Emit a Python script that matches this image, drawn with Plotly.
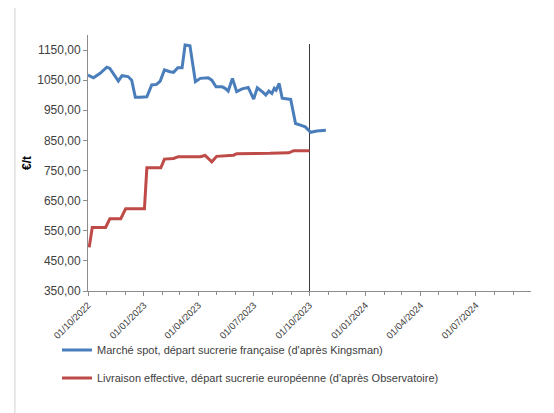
import plotly.graph_objects as go

# Blue series: Marché spot, départ sucrerie française (d'après Kingsman)
spot_dates = ["2022-10-01", "2022-10-10", "2022-10-21", "2022-11-01", "2022-11-06", "2022-11-20",
              "2022-11-26", "2022-12-06", "2022-12-12", "2022-12-18", "2022-12-26", "2023-01-06",
              "2023-01-14", "2023-01-22", "2023-01-28", "2023-02-04", "2023-02-13", "2023-02-19",
              "2023-02-26", "2023-03-05", "2023-03-10", "2023-03-18", "2023-03-27", "2023-04-04",
              "2023-04-17", "2023-04-23", "2023-04-30", "2023-05-10", "2023-05-15", "2023-05-20",
              "2023-05-27", "2023-06-03", "2023-06-12", "2023-06-22", "2023-07-01", "2023-07-07",
              "2023-07-15", "2023-07-21", "2023-07-26", "2023-07-31", "2023-08-04", "2023-08-07",
              "2023-08-12", "2023-08-17", "2023-08-31", "2023-09-08", "2023-09-16", "2023-09-24",
              "2023-10-03", "2023-10-13", "2023-10-28"]
spot_values = [1067, 1058, 1073, 1093, 1089, 1047,
               1065, 1062, 1050, 993, 993, 995,
               1034, 1036, 1047, 1084, 1078, 1076,
               1091, 1091, 1167, 1164, 1045, 1056,
               1058, 1050, 1028, 1028, 1023, 1014,
               1056, 1012, 1021, 1026, 987, 1025,
               1012, 1001, 1014, 1006, 1023, 1017,
               1039, 990, 986, 906, 901, 895,
               877, 881, 884]

# Red series: Livraison effective, départ sucrerie européenne (d'après Observatoire)
deliv_dates = ["2022-10-03", "2022-10-08", "2022-10-30", "2022-11-06", "2022-11-24", "2022-12-02",
               "2023-01-02", "2023-01-06", "2023-01-29", "2023-02-04", "2023-02-19", "2023-02-27",
               "2023-04-04", "2023-04-12", "2023-04-23", "2023-05-01", "2023-05-29", "2023-06-03",
               "2023-07-28", "2023-08-28", "2023-09-05", "2023-10-01"]
deliv_values = [495, 561, 561, 590, 590, 623,
                623, 759, 759, 788, 790, 796,
                796, 800, 779, 797, 801, 806,
                807, 809, 816, 816]

# Vertical marker
marker_date = "2023-10-01"
marker_values = [350, 1170]

y_ticks = [350, 450, 550, 650, 750, 850, 950, 1050, 1150]
x_range = ["2022-10-01", "2024-09-30"]
y_range = [350, 1200]

name_spot = "Marché spot, départ sucrerie française (d'après Kingsman)"
name_deliv = "Livraison effective, départ sucrerie européenne (d'après Observatoire)"

fig = go.Figure()
fig.add_trace(go.Scatter(x=[marker_date, marker_date], y=marker_values, mode="lines",
                         line=dict(color="#3a3a3a", width=1), showlegend=False, hoverinfo="skip"))
fig.add_trace(go.Scatter(x=spot_dates, y=spot_values, mode="lines", name=name_spot,
                         line=dict(color="#4A7EBB", width=3), legend="legend"))
fig.add_trace(go.Scatter(x=deliv_dates, y=deliv_values, mode="lines", name=name_deliv,
                         line=dict(color="#BE4B48", width=3), legend="legend2"))

axis_color = "#8c8c8c"
fig.update_layout(
    width=546, height=405,
    margin=dict(l=80, r=23, t=27, b=122),
    paper_bgcolor="white", plot_bgcolor="white",
    separators=", ",
    font=dict(family="Liberation Sans, Arial, sans-serif", color="#404040", size=12),
    xaxis=dict(
        type="date", range=x_range, tick0="2022-10-01", dtick="M3", tickformat="%d/%m/%Y",
        tickangle=-45, tickfont=dict(size=9.5), showgrid=False, showline=True, automargin=False,
        linecolor=axis_color, linewidth=1, ticks="outside", ticklen=4, tickcolor=axis_color,
        minor=dict(dtick="M1", tick0="2022-10-01", ticks="outside", ticklen=3,
                   tickcolor=axis_color, showgrid=False),
        zeroline=False,
    ),
    yaxis=dict(
        range=y_range, tickvals=y_ticks, tickformat=".2f", showgrid=False, showline=True,
        automargin=False,
        linecolor=axis_color, linewidth=1, ticks="outside", ticklen=4, tickcolor=axis_color,
        tickfont=dict(size=12), zeroline=False,
        title=dict(text="<b>€/t</b>", font=dict(size=12, color="#000000"), standoff=3),
    ),
    legend=dict(x=-0.07, y=-0.23, xanchor="left", yanchor="middle",
                font=dict(size=11), bgcolor="rgba(0,0,0,0)"),
    legend2=dict(x=-0.07, y=-0.34, xanchor="left", yanchor="middle",
                 font=dict(size=11), bgcolor="rgba(0,0,0,0)"),
    shapes=[
        dict(type="line", xref="paper", yref="paper", x0=-0.165, x1=-0.165, y0=-0.5, y1=1.2,
             line=dict(color="#d0d0d0", width=1)),
        dict(type="line", xref="paper", yref="paper", x0=1.035, x1=1.035, y0=-0.5, y1=1.2,
             line=dict(color="#d0d0d0", width=1)),
    ],
)

fig.write_html("out.html")
